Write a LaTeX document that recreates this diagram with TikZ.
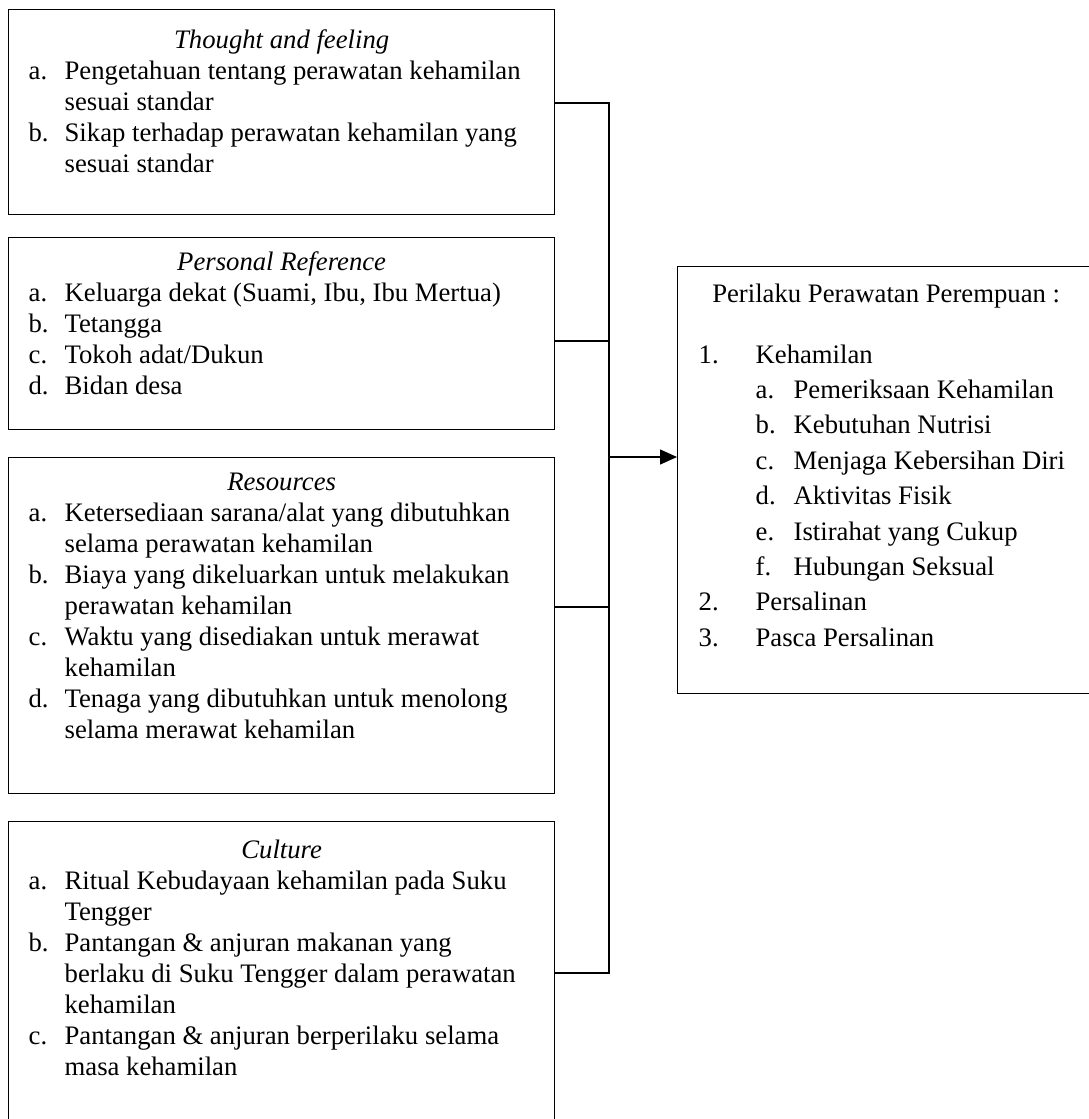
\documentclass[tikz,border=0pt]{standalone}
\usepackage{fontspec}
\setmainfont{Liberation Serif}
\usetikzlibrary{arrows.meta}

% judul kotak dan butir berhuruf
\newcommand{\boxhead}[2][36pt]{\centerline{\rule{0pt}{#1}\itshape #2}}
\newcommand{\itm}[2]{{\let\\\newline\par\hangindent=36pt\hangafter=1\noindent\makebox[36pt][l]{#1}#2\par}}
\newcommand{\lbl}[2]{\makebox[#1][l]{#2}}

\tikzset{
  factor/.style={draw, line width=1.3pt, inner xsep=20pt, inner ysep=0pt, anchor=north west,
    font=\fontsize{26.7pt}{31pt}\selectfont},
  link/.style={line width=1.3pt},
}

\begin{document}
\begin{tikzpicture}[x=1pt, y=-1pt]
	\useasboundingbox (0,0) rectangle (1088,1119);
	
	%faktor-faktor
	\node[factor] (thought) at (8,9) {\parbox[t][205pt][t]{506pt}{\raggedright
			\boxhead[39pt]{Thought and feeling}
			\itm{a.}{Pengetahuan tentang perawatan kehamilan\\sesuai standar}
			\itm{b.}{Sikap terhadap perawatan kehamilan yang\\sesuai standar}}};
	
	\node[factor] (person) at (8,237) {\parbox[t][192pt][t]{506pt}{\raggedright
			\boxhead[33pt]{Personal Reference}
			\itm{a.}{Keluarga dekat (Suami, Ibu, Ibu Mertua)}
			\itm{b.}{Tetangga}
			\itm{c.}{Tokoh adat/Dukun}
			\itm{d.}{Bidan desa}}};
	
	\node[factor] (resource) at (8,457) {\parbox[t][336pt][t]{506pt}{\raggedright
			\boxhead[33pt]{Resources}
			\itm{a.}{Ketersediaan sarana/alat yang dibutuhkan\\selama perawatan kehamilan}
			\itm{b.}{Biaya yang dikeluarkan untuk melakukan\\perawatan kehamilan}
			\itm{c.}{Waktu yang disediakan untuk merawat\\kehamilan}
			\itm{d.}{Tenaga yang dibutuhkan untuk menolong\\selama merawat kehamilan}}};
	
	\node[factor] (culture) at (8,821) {\parbox[t][320pt][t]{506pt}{\raggedright
			\boxhead[37pt]{Culture}
			\itm{a.}{Ritual Kebudayaan kehamilan pada Suku\\Tengger}
			\itm{b.}{Pantangan \& anjuran makanan yang\\berlaku di Suku Tengger dalam perawatan\\kehamilan}
			\itm{c.}{Pantangan \& anjuran berperilaku selama\\masa kehamilan}}};
	
	%perilaku
	\node[factor, inner xsep=21pt, font=\fontsize{26.7pt}{35.4pt}\selectfont] (behav) at (677,266) {\parbox[t][427pt][t]{375pt}{\raggedright
			\centerline{\rule{0pt}{36pt}Perilaku Perawatan Perempuan :}
			\vspace{25pt}
			\lbl{57pt}{1.}Kehamilan\\
			\hspace*{57pt}\lbl{38pt}{a.}Pemeriksaan Kehamilan\\
			\hspace*{57pt}\lbl{38pt}{b.}Kebutuhan Nutrisi\\
			\hspace*{57pt}\lbl{38pt}{c.}Menjaga Kebersihan Diri\\
			\hspace*{57pt}\lbl{38pt}{d.}Aktivitas Fisik\\
			\hspace*{57pt}\lbl{38pt}{e.}Istirahat yang Cukup\\
			\hspace*{57pt}\lbl{38pt}{f.}Hubungan Seksual\\
			\lbl{57pt}{2.}Persalinan\\
			\lbl{57pt}{3.}Pasca Persalinan}};
	
	%garis penghubung
	\coordinate (jthought) at (609,103);
	\coordinate (jperson) at (609,341);
	\coordinate (jres) at (609,607);
	\coordinate (jcult) at (609,973);
	\coordinate (jarrow) at (609,457);
	\draw[link] (thought.east |- jthought) -- (jthought) -- (jcult) -- (culture.east |- jcult);
	\draw[link] (person.east |- jperson) -- (jperson);
	\draw[link] (resource.east |- jres) -- (jres);
	\draw[link, -{Triangle[length=17pt, width=15pt]}] (jarrow) -- (jarrow -| behav.west);
\end{tikzpicture}
\end{document}
